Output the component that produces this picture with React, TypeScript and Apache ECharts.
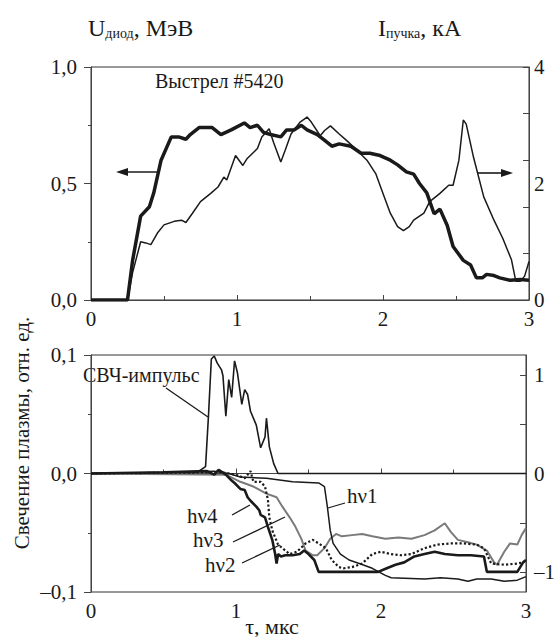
import React, { useEffect, useRef } from "react";
import * as echarts from "echarts";

// ---- Top panel: diode voltage (MeV, left axis) and beam current (kA, right axis)
const uDiode: number[][] = [
  [0, 0], [0.24, 0], [0.25, 0], [0.285, 0.17], [0.34, 0.36], [0.4, 0.4], [0.43, 0.46], [0.48, 0.6],
  [0.55, 0.7], [0.6, 0.7], [0.65, 0.69], [0.68, 0.71], [0.74, 0.74], [0.83, 0.74], [0.89, 0.71],
  [0.96, 0.73], [1.05, 0.76], [1.09, 0.74], [1.14, 0.75], [1.18, 0.72], [1.23, 0.71], [1.3, 0.7],
  [1.34, 0.73], [1.39, 0.73], [1.44, 0.75], [1.48, 0.73], [1.55, 0.71], [1.59, 0.69], [1.65, 0.66],
  [1.7, 0.67], [1.78, 0.66], [1.85, 0.63], [1.91, 0.63], [1.98, 0.62], [2.05, 0.6], [2.1, 0.58],
  [2.16, 0.55], [2.21, 0.54], [2.25, 0.5], [2.3, 0.46], [2.35, 0.37], [2.39, 0.39], [2.44, 0.32],
  [2.48, 0.23], [2.55, 0.17], [2.6, 0.15], [2.64, 0.095], [2.68, 0.095], [2.71, 0.11], [2.76, 0.105],
  [2.8, 0.095], [2.87, 0.085], [2.94, 0.088], [3.0, 0.085],
];
const iBeam: number[][] = [
  [0, 0], [0.25, 0], [0.285, 0.47], [0.34, 1.0], [0.375, 0.98], [0.41, 0.95], [0.455, 1.15], [0.5, 1.29],
  [0.57, 1.35], [0.62, 1.37], [0.65, 1.33], [0.695, 1.49], [0.75, 1.69], [0.82, 1.83], [0.87, 1.94],
  [0.91, 2.11], [0.93, 2.06], [0.99, 2.48], [1.04, 2.31], [1.07, 2.43], [1.14, 2.6], [1.17, 2.8],
  [1.22, 2.94], [1.25, 2.71], [1.3, 2.37], [1.33, 2.57], [1.37, 2.85], [1.43, 3.05], [1.48, 3.14],
  [1.51, 3.05], [1.57, 2.82], [1.6, 2.91], [1.64, 2.99], [1.7, 2.85], [1.75, 2.74], [1.81, 2.6],
  [1.89, 2.4], [1.95, 2.17], [2.0, 1.83], [2.05, 1.49], [2.1, 1.26], [2.14, 1.19], [2.18, 1.26],
  [2.21, 1.37], [2.28, 1.49], [2.32, 1.69], [2.39, 1.83], [2.45, 1.97], [2.48, 1.97], [2.52, 2.4],
  [2.55, 3.09], [2.57, 3.02], [2.62, 2.45], [2.69, 1.77], [2.76, 1.37], [2.82, 1.06], [2.88, 0.69],
  [2.91, 0.32], [2.94, 0.32], [2.97, 0.41], [3.0, 0.66],
];

// ---- Bottom panel: microwave pulse (right axis) and plasma glow hν1..hν4 (left axis)
const svch: number[][] = [
  [0, 0], [0.2, 0.005], [0.4, -0.005], [0.6, 0.01], [0.7, 0], [0.75, 0.03], [0.79, 0.07], [0.81, 0.58],
  [0.83, 1.16], [0.85, 1.19], [0.87, 1.12], [0.9, 1.05], [0.91, 0.99], [0.93, 0.58], [0.95, 0.95],
  [0.97, 0.77], [0.99, 1.14], [1.01, 1.02], [1.04, 0.7], [1.06, 0.85], [1.08, 0.8], [1.1, 0.63],
  [1.14, 0.49], [1.17, 0.26], [1.2, 0.37], [1.21, 0.56], [1.23, 0.27], [1.26, 0.1], [1.29, 0], [3.0, 0],
];
const hv1: number[][] = [
  [0, 0], [0.6, 0.001], [0.85, 0.002], [0.95, 0], [1.03, -0.003], [1.21, -0.004], [1.39, -0.007],
  [1.57, -0.008], [1.61, -0.011], [1.63, -0.028], [1.65, -0.048], [1.67, -0.059], [1.72, -0.068],
  [1.78, -0.073], [1.85, -0.076], [1.94, -0.08], [2.03, -0.086], [2.07, -0.088], [2.3, -0.089],
  [2.41, -0.088], [2.53, -0.089], [2.6, -0.091], [2.66, -0.089], [2.76, -0.089], [2.85, -0.091],
  [2.94, -0.09], [3.0, -0.087],
];
const hv2: number[][] = [
  [0, 0], [0.9, 0.001], [1.0, -0.001], [1.06, -0.004], [1.1, 0.002], [1.12, -0.007], [1.17, -0.007],
  [1.2, -0.011], [1.22, -0.022], [1.23, -0.037], [1.25, -0.048], [1.29, -0.06], [1.32, -0.063],
  [1.37, -0.068], [1.42, -0.066], [1.48, -0.059], [1.53, -0.056], [1.57, -0.059], [1.62, -0.063],
  [1.66, -0.073], [1.71, -0.079], [1.74, -0.08], [1.8, -0.079], [1.87, -0.076], [1.94, -0.068],
  [2.0, -0.066], [2.07, -0.068], [2.14, -0.069], [2.21, -0.068], [2.3, -0.063], [2.39, -0.06],
  [2.48, -0.059], [2.57, -0.059], [2.66, -0.06], [2.71, -0.063], [2.76, -0.076], [2.85, -0.077],
  [2.94, -0.076], [2.98, -0.075],
];
const hv3: number[][] = [
  [0, 0], [0.93, -0.001], [1.03, -0.007], [1.12, -0.011], [1.21, -0.017], [1.28, -0.02], [1.32, -0.028],
  [1.37, -0.037], [1.41, -0.045], [1.45, -0.055], [1.48, -0.065], [1.53, -0.069], [1.56, -0.069],
  [1.61, -0.063], [1.65, -0.055], [1.69, -0.051], [1.73, -0.053], [1.8, -0.052], [1.87, -0.051],
  [1.94, -0.053], [2.03, -0.055], [2.12, -0.054], [2.21, -0.055], [2.3, -0.052], [2.37, -0.048],
  [2.44, -0.042], [2.48, -0.049], [2.53, -0.056], [2.6, -0.058], [2.66, -0.06], [2.73, -0.065],
  [2.78, -0.075], [2.8, -0.077], [2.85, -0.066], [2.89, -0.059], [2.94, -0.06], [2.97, -0.052],
  [3.0, -0.046],
];
const hv4: number[][] = [
  [0, 0], [0.5, 0.001], [0.8, 0.002], [0.85, -0.001], [0.88, 0.003], [0.93, -0.001], [0.97, -0.006],
  [0.99, -0.008], [1.03, -0.013], [1.06, -0.014], [1.08, -0.02], [1.1, -0.023], [1.14, -0.028],
  [1.16, -0.031], [1.17, -0.035], [1.2, -0.037], [1.22, -0.045], [1.25, -0.056], [1.27, -0.068],
  [1.28, -0.076], [1.29, -0.068], [1.31, -0.07], [1.34, -0.069], [1.39, -0.069], [1.44, -0.068],
  [1.47, -0.065], [1.5, -0.068], [1.54, -0.073], [1.57, -0.083], [1.98, -0.083], [2.04, -0.08],
  [2.1, -0.077], [2.16, -0.075], [2.23, -0.07], [2.3, -0.068], [2.37, -0.066], [2.44, -0.068],
  [2.53, -0.069], [2.62, -0.069], [2.71, -0.07], [2.73, -0.083], [2.94, -0.083], [2.96, -0.079],
  [2.98, -0.075], [3.0, -0.073],
];

// ---- Tick definitions
const xTicks = { min: 0, max: 3, interval: 1 };
const uTicks = { min: 0, max: 1, interval: 0.5 };
const iTickValues = [0, 0.8, 1.6, 2.4, 3.2, 4];
const iLabelValues = [0, 2, 4];
const glowTicks = { min: -0.1, max: 0.1, interval: 0.1 };
const svchTickValues = [-1, -0.5, 0, 0.5, 1];
const svchLabelValues = [-1, 0, 1];

const FONT = "Liberation Serif";
const INK = "#1a1a1a";
const AX = "#444444";

const comma = (v: number) => {
  const r = Math.round(v * 10) / 10;
  const s = Math.abs(r).toFixed(1).replace(".", ",");
  return r < 0 ? "\u2013" + s : s;
};
const intLbl = (v: number) => {
  const r = Math.round(v);
  return r < 0 ? "\u2013" + Math.abs(r) : String(r);
};

export default function App() {
  const ref = useRef<HTMLDivElement>(null);
  useEffect(() => {
    if (!ref.current) return;
    const chart = echarts.init(ref.current, undefined, { renderer: "svg" });
    const mkLbl = (margin: number, extra: any = {}) => ({
      fontFamily: FONT,
      fontSize: 21,
      color: INK,
      margin,
      ...extra,
    });
    const xAxisBase = (gi: number) => ({
      gridIndex: gi,
      type: "value",
      ...xTicks,
      axisLine: { show: true, lineStyle: { color: AX, width: 1 } },
      axisTick: { show: true, inside: true, length: 5, lineStyle: { color: AX } },
      minorTick: { show: true, splitNumber: 2, length: 4, lineStyle: { color: AX } },
      axisLabel: mkLbl(8),
      splitLine: { show: false },
    });
    const txt = (text: string, x: number, y: number, size: number, extra: any = {}) => ({
      type: "text",
      x,
      y,
      style: { text, fontFamily: FONT, fontSize: size, fill: INK, verticalAlign: "middle", ...extra },
    });
    const seg = (x1: number, y1: number, x2: number, y2: number, w = 1.3) => ({
      type: "line",
      shape: { x1, y1, x2, y2 },
      style: { stroke: INK, lineWidth: w },
    });
    const richTitle = (main: string, sub: string, rest: string, x: number) => ({
      type: "text",
      x,
      y: 28,
      style: {
        text: `{m|${main}}{s|${sub}}{m|${rest}}`,
        verticalAlign: "middle",
        rich: {
          m: { fontFamily: FONT, fontSize: 24, fill: INK },
          s: { fontFamily: FONT, fontSize: 14, fill: INK, verticalAlign: "bottom" },
        },
      },
    });

    chart.setOption({
      animation: false,
      grid: [
        { left: 91, top: 67, width: 438, height: 233, show: true, borderColor: "#333", borderWidth: 1 },
        { left: 91, top: 355, width: 438, height: 237, show: true, borderColor: "#333", borderWidth: 1 },
      ],
      xAxis: [xAxisBase(0), xAxisBase(1)],
      yAxis: [
        {
          gridIndex: 0,
          type: "value",
          position: "left",
          ...uTicks,
          axisLine: { show: true, lineStyle: { color: AX, width: 1 } },
          axisTick: { show: true, inside: false, length: 7, lineStyle: { color: AX } },
          minorTick: { show: true, splitNumber: 2, length: 3, lineStyle: { color: AX } },
          axisLabel: mkLbl(14, { formatter: comma }),
          splitLine: { show: false },
        },
        {
          gridIndex: 0,
          type: "value",
          position: "right",
          min: 0,
          max: 4,
          axisLine: { show: true, lineStyle: { color: AX, width: 1 } },
          axisTick: { show: true, inside: true, length: 6, customValues: iTickValues, lineStyle: { color: AX } },
          axisLabel: mkLbl(5, { customValues: iLabelValues, formatter: intLbl }),
          splitLine: { show: false },
        },
        {
          gridIndex: 1,
          type: "value",
          position: "left",
          ...glowTicks,
          axisLine: { show: true, lineStyle: { color: AX, width: 1 } },
          axisTick: { show: true, inside: false, length: 7, lineStyle: { color: AX } },
          minorTick: { show: true, splitNumber: 2, length: 3, lineStyle: { color: AX } },
          axisLabel: mkLbl(14, { formatter: comma }),
          splitLine: { show: false },
        },
        {
          gridIndex: 1,
          type: "value",
          position: "right",
          min: -1.2,
          max: 1.2,
          axisLine: { show: true, lineStyle: { color: AX, width: 1 } },
          axisTick: { show: true, inside: true, length: 6, customValues: svchTickValues, lineStyle: { color: AX } },
          axisLabel: mkLbl(8, { customValues: svchLabelValues, formatter: intLbl }),
          splitLine: { show: false },
        },
      ],
      series: [
        { type: "line", xAxisIndex: 0, yAxisIndex: 0, data: uDiode, showSymbol: false, lineStyle: { color: INK, width: 3.5 }, z: 3 },
        { type: "line", xAxisIndex: 0, yAxisIndex: 1, data: iBeam, showSymbol: false, lineStyle: { color: INK, width: 1.5 }, z: 2 },
        { type: "line", xAxisIndex: 1, yAxisIndex: 3, data: svch, showSymbol: false, lineStyle: { color: INK, width: 1.6 }, z: 2 },
        { type: "line", xAxisIndex: 1, yAxisIndex: 2, data: hv1, showSymbol: false, lineStyle: { color: INK, width: 1.5 }, z: 3 },
        { type: "line", xAxisIndex: 1, yAxisIndex: 2, data: hv2, showSymbol: false, lineStyle: { color: INK, width: 2.2, type: "dotted" }, z: 3 },
        { type: "line", xAxisIndex: 1, yAxisIndex: 2, data: hv3, showSymbol: false, lineStyle: { color: "#7a7a7a", width: 2 }, z: 2 },
        { type: "line", xAxisIndex: 1, yAxisIndex: 2, data: hv4, showSymbol: false, lineStyle: { color: INK, width: 2.6 }, z: 4 },
      ],
      graphic: [
        richTitle("U", "диод", ", МэВ", 88),
        richTitle("I", "пучка", ", кА", 378),
        txt("Выстрел #5420", 155, 81, 20),
        seg(124, 172, 158, 172, 1.6),
        { type: "polygon", shape: { points: [[116, 172], [128, 168], [128, 176]] }, style: { fill: INK } },
        seg(478, 173, 505, 173, 1.6),
        { type: "polygon", shape: { points: [[513, 173], [501, 169], [501, 177]] }, style: { fill: INK } },
        txt("СВЧ-импульс", 83, 375, 20),
        seg(166, 388, 208, 417),
        txt("hν1", 347, 496, 21),
        seg(345, 503, 328, 508),
        txt("hν4", 187, 516, 21),
        seg(232, 515, 250, 505),
        txt("hν3", 193, 540, 21),
        seg(233, 542, 285, 517),
        txt("hν2", 205, 565, 21),
        seg(242, 563, 280, 545),
        {
          type: "text",
          x: 22,
          y: 433,
          rotation: Math.PI / 2,
          style: { text: "Свечение плазмы, отн. ед.", fontFamily: FONT, fontSize: 21, fill: INK, align: "center", verticalAlign: "middle" },
        },
        txt("τ, мкс", 272, 626, 22, { align: "center" }),
      ],
    });
    return () => chart.dispose();
  }, []);
  return <div ref={ref} style={{ position: "absolute", left: 0, top: 0, width: 558, height: 637 }} />;
}
